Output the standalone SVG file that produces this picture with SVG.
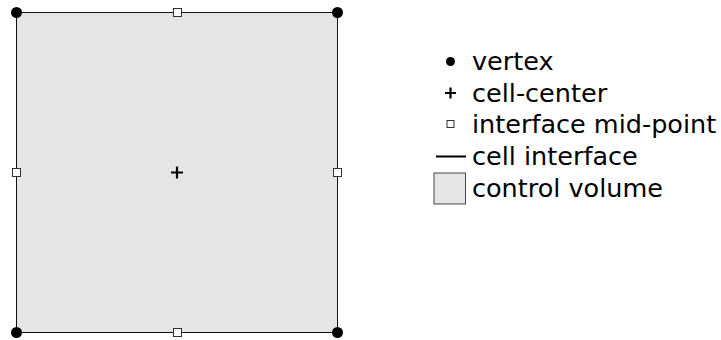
<svg xmlns="http://www.w3.org/2000/svg" width="721" height="340" viewBox="0 0 721 340">
<style>
.vtx{fill:#000}
.mid{fill:#fff;stroke:#333;stroke-width:1}
.plus{stroke:#000;stroke-width:2.2;fill:none}
.edge{stroke:#111;stroke-width:1;fill:none}
.lbl{font-family:"DejaVu Sans",sans-serif;font-size:25.5px;fill:#000}
</style>
<rect x="0" y="0" width="721" height="340" fill="#fff"/>
<g id="control-volume">
<rect x="16.5" y="12.5" width="320.5" height="319.5" fill="#e5e5e5" stroke="none"/>
</g>
<g id="interfaces">
<line class="edge" x1="16.5" y1="12.5" x2="337.5" y2="12.5"/>
<line class="edge" x1="337.5" y1="12.5" x2="337.5" y2="332.5"/>
<line class="edge" x1="337.5" y1="332.5" x2="16.5" y2="332.5"/>
<line class="edge" x1="16.5" y1="332.5" x2="16.5" y2="12.5"/>
</g>
<g id="vertices">
<circle class="vtx" cx="16.5" cy="12.5" r="5.5"/>
<circle class="vtx" cx="337.5" cy="12.5" r="5.5"/>
<circle class="vtx" cx="16.5" cy="332.5" r="5.5"/>
<circle class="vtx" cx="337.5" cy="332.5" r="5.5"/>
</g>
<g id="midpoints">
<rect class="mid" x="173.5" y="8.5" width="8" height="8"/>
<rect class="mid" x="12.5" y="168.5" width="8" height="8"/>
<rect class="mid" x="333.5" y="168.5" width="8" height="8"/>
<rect class="mid" x="173.5" y="328.5" width="8" height="8"/>
</g>
<g id="cell-center">
<path class="plus" d="M171 172.5H183M177 166.5V178.5"/>
</g>
<g id="legend">
<circle class="vtx" cx="450.5" cy="61.5" r="4.5"/>
<text class="lbl" x="472" y="70">vertex</text>
<path class="plus" d="M445 93H456M450.5 87.5V98.5"/>
<text class="lbl" x="472" y="101.5">cell-center</text>
<rect class="mid" x="447" y="120.5" width="7" height="7"/>
<text class="lbl" x="472" y="132.5">interface mid-point</text>
<line x1="436" y1="156.5" x2="466" y2="156.5" stroke="#000" stroke-width="2"/>
<text class="lbl" x="472" y="164.5">cell interface</text>
<rect x="434" y="173" width="31.5" height="31" fill="#e5e5e5" stroke="#444" stroke-width="1"/>
<text class="lbl" x="472" y="196.5">control volume</text>
</g>
</svg>
